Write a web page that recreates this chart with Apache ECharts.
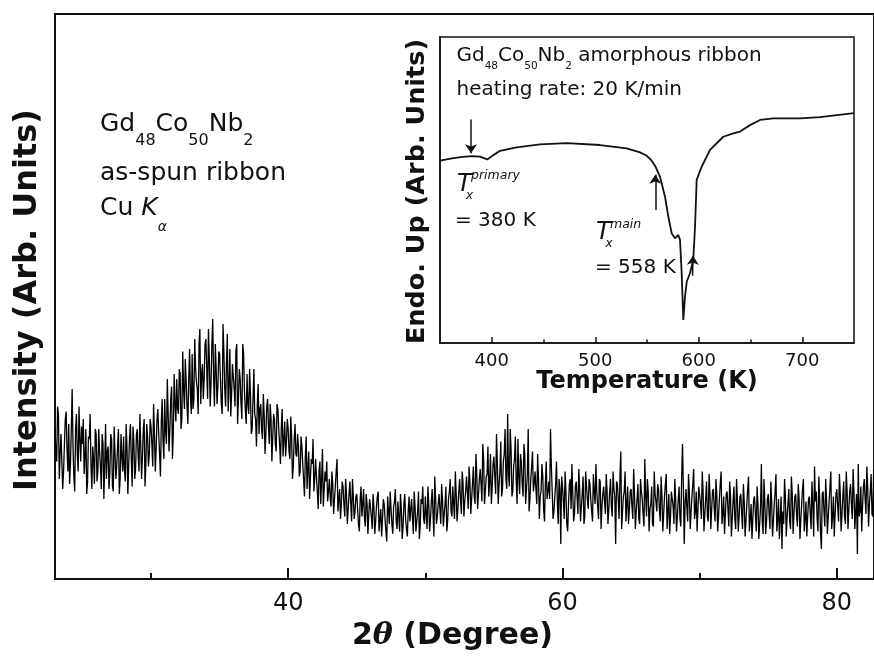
<!DOCTYPE html>
<html>
<head>
<meta charset="utf-8">
<script src="https://cdn.jsdelivr.net/npm/echarts@6/dist/echarts.min.js"></script>
<style>html,body{margin:0;padding:0;background:#fff}#c{width:874px;height:657px}</style>
</head>
<body>
<div id="c"></div>
<script>
// ---- XRD pattern, intensity in arb. units ----
// xrdIntensity: readings at 2theta = 23.0 + k*0.125 deg
// xrdIntensityMid: readings at the half steps, 2theta = 23.0625 + k*0.125 deg
const xrdStart = 23.0;
const xrdStep = 0.125;
const xrdIntensity = [
  300,235,330,250,290,215,320,260,
  310,228,380,205,300,250,345,235,
  270,210,300,195,280,225,265,190,
  290,215,255,180,270,230,200,265,
  215,280,175,250,225,300,200,245,
  285,195,260,230,310,185,275,220,
  300,215,270,245,320,230,285,250,
  305,225,290,260,340,250,315,275,
  360,270,330,300,385,290,350,400,
  330,410,320,380,440,345,400,365,
  450,360,420,380,470,350,430,400,
  480,360,440,390,520,345,420,385,
  450,350,510,380,430,335,460,370,
  430,345,470,360,400,320,450,340,
  410,330,370,300,420,320,350,290,
  350,280,330,290,360,270,320,285,
  320,255,340,270,305,245,315,275,
  300,240,285,225,310,245,265,215,
  265,200,245,180,255,205,230,175,
  240,175,215,150,260,180,195,155,
  200,145,190,160,215,135,180,150,
  185,125,170,140,195,115,165,135,
  170,110,160,125,180,105,150,130,
  160,100,145,115,165,95,140,120,
  150,95,165,110,140,90,155,115,
  155,95,140,105,170,100,135,115,
  160,90,145,115,175,105,150,120,
  165,100,150,120,180,85,160,125,
  170,110,160,130,185,115,175,135,
  185,120,170,140,200,130,190,155,
  205,140,195,160,225,150,210,170,
  220,155,240,175,210,165,250,185,
  245,170,230,190,275,180,250,200,
  330,185,260,175,240,195,280,170,
  235,165,250,180,300,160,225,175,
  215,150,200,165,230,140,190,160,
  195,300,175,135,190,150,200,70,
  185,120,175,95,190,140,170,130,
  195,130,180,145,205,125,185,140,
  190,135,210,150,175,120,195,145,
  185,130,175,140,200,125,180,70,
  190,120,255,135,175,115,185,140,
  180,120,170,135,190,110,175,130,
  240,125,175,140,185,105,170,135,
  180,115,165,130,190,100,170,125,
  175,110,160,125,185,105,270,70,
  180,115,170,135,190,120,175,140,
  185,120,175,130,195,115,170,140,
  180,115,170,125,190,110,165,130,
  175,105,165,120,185,100,160,125,
  170,100,155,115,180,95,150,120,
  165,95,150,110,230,90,155,115,
  170,100,155,115,175,95,160,120,
  60,110,165,125,180,100,170,130,
  170,105,160,120,180,95,155,125,
  165,100,150,225,175,95,160,60,
  175,105,160,125,185,100,165,130,
  180,115,170,130,195,110,175,140,
  190,120,175,135,50,125,185,145,
  200,130,185,150,210,125
];
const xrdIntensityMid = [
  255,345,200,290,180,270,335,215,
  190,300,265,175,330,215,280,305,
  320,245,170,285,330,180,240,300,
  195,300,225,290,160,310,255,180,
  290,185,305,200,265,170,290,215,
  220,310,170,285,240,305,200,290,
  245,330,200,300,185,310,225,320,
  270,350,215,320,290,205,360,240,
  295,400,255,360,240,410,315,340,
  420,300,455,340,395,310,460,330,
  340,480,395,330,500,410,360,470,
  420,500,345,470,400,470,350,455,
  400,330,455,345,490,390,325,430,
  380,455,310,420,350,470,375,310,
  350,420,290,360,330,265,390,340,
  300,370,250,345,305,350,235,330,
  270,350,300,230,340,280,245,320,
  255,325,200,280,250,290,205,285,
  230,165,285,220,160,240,280,200,
  205,140,235,200,145,215,235,175,
  165,215,130,185,240,160,120,195,
  150,200,110,170,150,200,120,165,
  140,95,185,150,120,170,90,160,
  125,170,90,145,175,120,85,160,
  120,75,135,175,110,145,180,100,
  125,170,80,150,120,85,165,140,
  120,175,95,135,80,160,185,110,
  130,185,95,155,130,205,110,150,
  140,190,105,150,95,160,200,125,
  150,215,115,175,160,215,125,175,
  175,225,130,190,165,250,140,200,
  190,270,150,205,265,195,150,230,
  205,290,150,215,165,235,300,180,
  210,300,165,225,285,150,205,250,
  190,270,150,210,135,200,255,190,
  180,250,120,175,205,115,235,175,
  160,225,120,165,235,110,180,205,
  155,215,110,150,200,230,115,185,
  165,220,115,170,110,215,160,200,
  160,115,175,230,145,200,100,170,
  155,210,110,175,145,215,165,195,
  160,205,100,165,215,150,110,175,
  145,220,100,160,120,200,160,105,
  165,200,95,150,110,215,155,190,
  140,205,95,165,210,135,90,175,
  145,200,95,160,120,205,180,150,
  145,210,100,165,220,135,95,185,
  150,215,95,160,125,210,100,175,
  140,200,95,160,215,130,90,170,
  140,195,85,155,120,200,95,165,
  130,190,85,150,205,120,80,160,
  130,185,80,145,115,200,90,160,
  130,195,85,150,210,120,80,165,
  135,200,85,150,115,205,90,165,
  130,190,80,150,200,120,85,160,
  130,195,85,155,120,205,90,170,
  135,200,90,155,215,125,85,170,
  145,210,95,165,125,215,100,175,
  150,220,100,170,230,135,95,185,
  160,225,105,175,130,220
];
const xrdMajorTicks = [40, 60, 80];
const xrdMinorTicks = [30, 50, 70];

// ---- DSC inset ----
const dscTemp = [350, 363, 372, 380.6, 388.6, 395.7, 401.5, 408, 424, 446.6, 472.4, 504.6, 530.4, 543.2, 549.7, 554, 558, 562.6, 567.4, 570.6, 573.9, 577.1, 580.2, 581.9, 583.5, 585.1, 586.7, 588.4, 591.5, 594.7, 596.4, 598, 602.8, 610.9, 623.7, 633.4, 639.9, 649.5, 659.2, 672, 697.8, 717.1, 750];
const dscSignal = [59.6, 60.4, 60.8, 61.1, 60.9, 60.0, 61.4, 62.8, 63.9, 64.9, 65.3, 64.7, 63.6, 62.3, 61.2, 59.8, 57.8, 54.3, 47.8, 41.3, 35.8, 34.2, 35.3, 33.7, 22.8, 7.5, 15.1, 20.0, 22.8, 27.1, 38.0, 53.3, 57.6, 63.1, 67.4, 68.5, 69.1, 71.2, 72.9, 73.4, 73.4, 73.8, 75.1];
const dscMajorTicks = [400, 500, 600, 700];
const dscMinorTicks = [450, 550, 650];
// arrows: temperature, start signal, end signal
const arrowTemp = [380, 558, 594];
const arrowFrom = [73, 43.5, 22];
const arrowTo = [62, 55, 28.5];

const F = "'DejaVu Sans', sans-serif";
const xrdData = [];
xrdIntensity.forEach((v, i) => {
  const x = xrdStart + i * xrdStep;
  xrdData.push([x, v]);
  xrdData.push([x + xrdStep / 2, xrdIntensityMid[i]]);
});
const dscData = dscTemp.map((t, i) => [t, dscSignal[i]]);
const arrowLines = arrowTemp.map((t, i) => [{coord: [t, arrowFrom[i]]}, {coord: [t + (i === 2 ? 0.5 : 0), arrowTo[i]]}]);

function txt(text, x, y, size, extra) {
  return {
    type: 'text', x: x, y: y, silent: true,
    style: Object.assign({text: text, fontSize: size, fontFamily: F, fill: '#111', align: 'left', verticalAlign: 'middle'}, extra || {})
  };
}

const chart = echarts.init(document.getElementById('c'), null, {renderer: 'canvas'});
chart.setOption({
  animation: false,
  backgroundColor: '#fff',
  grid: [
    {left: 55, top: 14, right: -2, bottom: 78, show: true, borderColor: '#111', borderWidth: 2},
    {left: 440, top: 37, right: 20, bottom: 314, show: true, borderColor: '#111', borderWidth: 1.5}
  ],
  xAxis: [
    {gridIndex: 0, type: 'value', min: 23, max: 82.71, position: 'bottom',
     axisLine: {lineStyle: {color: '#111', width: 2}},
     axisTick: {inside: true, length: 11, customValues: xrdMajorTicks, lineStyle: {color: '#111', width: 2}},
     axisLabel: {customValues: xrdMajorTicks, fontSize: 24, fontFamily: F, color: '#111', margin: 13},
     splitLine: {show: false}},
    {gridIndex: 0, type: 'value', min: 23, max: 82.71, position: 'top', offset: -565,
     axisLine: {show: false},
     axisTick: {inside: false, length: 6, customValues: xrdMinorTicks, lineStyle: {color: '#111', width: 2}},
     axisLabel: {show: false}, splitLine: {show: false}},
    {gridIndex: 1, type: 'value', min: 350, max: 750, position: 'bottom',
     axisLine: {lineStyle: {color: '#111', width: 1.5}},
     axisTick: {inside: true, length: 6, customValues: dscMajorTicks, lineStyle: {color: '#111', width: 1.5}},
     axisLabel: {customValues: dscMajorTicks, fontSize: 18, fontFamily: F, color: '#111', margin: 9},
     splitLine: {show: false}},
    {gridIndex: 1, type: 'value', min: 350, max: 750, position: 'top', offset: -306,
     axisLine: {show: false},
     axisTick: {inside: false, length: 3.5, customValues: dscMinorTicks, lineStyle: {color: '#111', width: 1.5}},
     axisLabel: {show: false}, splitLine: {show: false}}
  ],
  yAxis: [
    {gridIndex: 0, type: 'value', min: 0, max: 1130, axisLine: {show: true, lineStyle: {color: '#111', width: 2}},
     axisTick: {show: false}, axisLabel: {show: false}, splitLine: {show: false}},
    {gridIndex: 1, type: 'value', min: 0, max: 100, axisLine: {show: true, lineStyle: {color: '#111', width: 1.5}},
     axisTick: {show: false}, axisLabel: {show: false}, splitLine: {show: false}}
  ],
  series: [
    {type: 'line', xAxisIndex: 0, yAxisIndex: 0, data: xrdData, showSymbol: false, symbol: 'none',
     lineStyle: {color: '#000', width: 1.3}, silent: true},
    {type: 'line', xAxisIndex: 2, yAxisIndex: 1, data: dscData, showSymbol: false, symbol: 'none',
     lineStyle: {color: '#111', width: 1.8}, silent: true,
     markLine: {silent: true, animation: false, symbol: ['none', 'arrow'], symbolSize: 9,
       lineStyle: {color: '#111', width: 1.5, type: 'solid'}, label: {show: false},
       emphasis: {disabled: true}, data: arrowLines}}
  ],
  graphic: {elements: [
    txt('{m|Gd}{s|48}{m|Co}{s|50}{m|Nb}{s|2}', 100, 124.5, 25, {rich: {
      m: {fontSize: 25, fontFamily: F, fill: '#111'},
      s: {fontSize: 16, fontFamily: F, fill: '#111', padding: [32, 0, 0, 0]}}}),
    txt('as-spun ribbon', 100, 173, 25),
    txt('{m|Cu }{k|K}{a|α}', 100, 208.5, 25, {rich: {
      m: {fontSize: 25, fontFamily: F, fill: '#111'},
      k: {fontSize: 25, fontFamily: F, fontStyle: 'italic', fill: '#111'},
      a: {fontSize: 14, fontFamily: F, fontStyle: 'italic', fill: '#111', padding: [37, 0, 0, 0]}}}),
    txt('{m|Gd}{s|48}{m|Co}{s|50}{m|Nb}{s|2}{m| amorphous ribbon}', 456.5, 55.5, 20, {rich: {
      m: {fontSize: 20, fontFamily: F, fill: '#111'},
      s: {fontSize: 10.5, fontFamily: F, fill: '#111', padding: [22, 0, 0, 0]}}}),
    txt('heating rate: 20 K/min', 456.5, 90, 20),
    txt('T', 457, 184.5, 24, {fontStyle: 'italic'}),
    txt('primary', 471, 176, 12.5, {fontStyle: 'italic'}),
    txt('x', 466, 196, 12, {fontStyle: 'italic'}),
    txt('= 380 K', 455, 220.5, 20),
    txt('T', 596, 232.5, 24, {fontStyle: 'italic'}),
    txt('main', 610, 225, 12.5, {fontStyle: 'italic'}),
    txt('x', 605.5, 243.5, 12, {fontStyle: 'italic'}),
    txt('= 558 K', 595, 268, 20),
    txt('{b|2}{t|θ}{b| (Degree)}', 352, 636, 30, {rich: {
      b: {fontSize: 30, fontFamily: F, fontWeight: 'bold', fill: '#111'},
      t: {fontSize: 30, fontFamily: "'DejaVu Serif', serif", fontWeight: 'bold', fontStyle: 'italic', fill: '#111'}}}),
    Object.assign(txt('Intensity (Arb. Units)', 27.5, 300, 32, {fontWeight: 'bold', align: 'center'}), {rotation: Math.PI / 2}),
    txt('Temperature (K)', 647, 382, 24, {fontWeight: 'bold', align: 'center'}),
    Object.assign(txt('Endo. Up (Arb. Units)', 417.5, 191.5, 25.5, {fontWeight: 'bold', align: 'center'}), {rotation: Math.PI / 2})
  ]}
});
</script>
</body>
</html>
